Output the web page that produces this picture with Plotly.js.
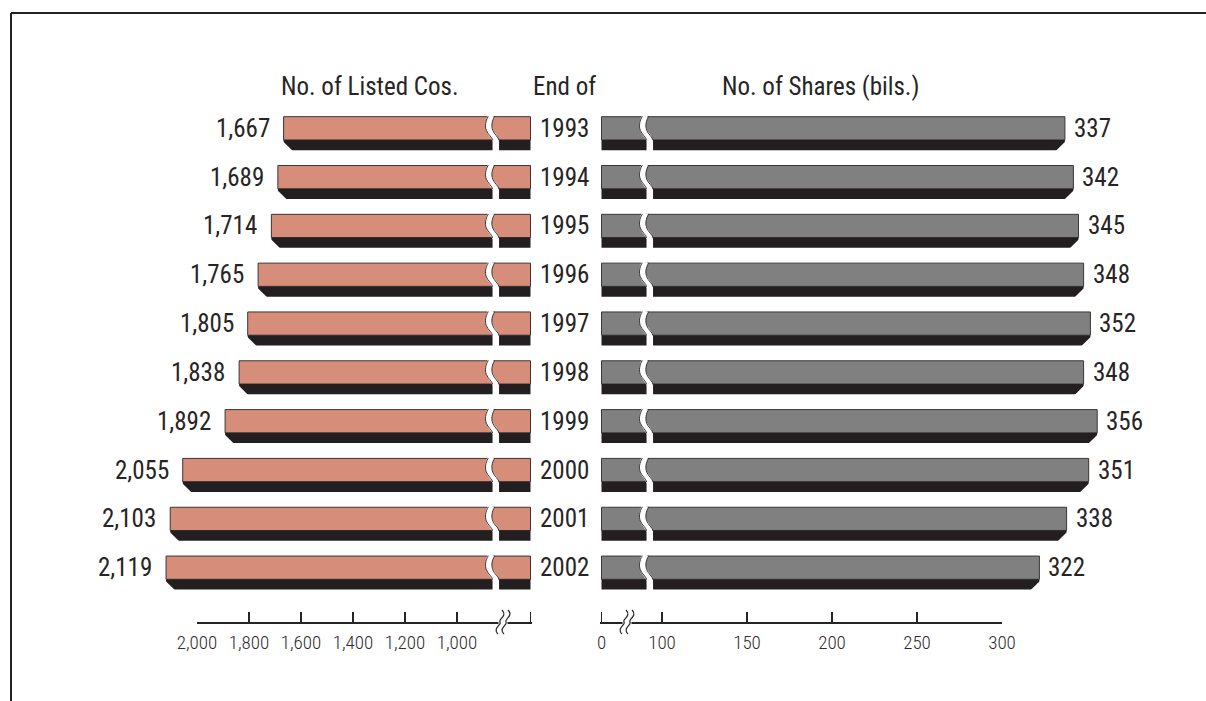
<!DOCTYPE html>
<html>
<head>
<meta charset="utf-8">
<script src="https://cdn.plot.ly/plotly-3.0.1.min.js"></script>
<style>
  html, body { margin: 0; padding: 0; background: #ffffff; }
  #chart { width: 1206px; height: 701px; }
</style>
</head>
<body>
<div id="chart"></div>
<script>
// Year-end listings and shares outstanding, 1993-2002
const years = ['1993', '1994', '1995', '1996', '1997', '1998', '1999', '2000', '2001', '2002'];
const listedCompanies = [1667, 1689, 1714, 1765, 1805, 1838, 1892, 2055, 2103, 2119];
const sharesBillions = [337, 342, 345, 348, 352, 348, 356, 351, 338, 322];
const companyTicks = [2000, 1800, 1600, 1400, 1200, 1000];
const shareTicks = [100, 150, 200, 250, 300];
const shareZeroTick = [0];

const titleLeft = 'No. of Listed Cos.';
const titleMiddle = 'End of';
const titleRight = 'No. of Shares (bils.)';

// ---- page geometry (pixels) ----
const W = 1206, H = 701;
const FONT = '"Roboto Condensed", "Liberation Sans Narrow", "DejaVu Sans Condensed", sans-serif';
const INK = '#272425';
const OUTLINE = '#3b3536';
const SALMON = '#D68E7A';
const GRAY = '#808080';
const SHADOW = '#231F20';
const LABEL_SIZE = 25;

const px = v => v / W;              // horizontal pixel -> paper
const py = v => 1 - v / H;          // vertical pixel -> paper

const axisY = 622;                  // baseline of the two scales
const rowTop = 128.3;               // centre of the first row
const rowStep = 48.82;              // distance between rows
const yRange = [(axisY - rowTop) / rowStep, -rowTop / rowStep];

// bar body: top face plus a dark lower edge
const FACE_OFF = -0.238, FACE_W = 0.476, EDGE_W = 0.21;

// left scale (companies, growing to the left)
const sL = 0.26, leftRef = 197;     // px per company, x of first tick
const vL = x => companyTicks[0] - (x - leftRef) / sL;
const leftBreak = 492, leftEnd = 531.5;

// right scale (shares, growing to the right)
const sR = 1.7, rightRef = 662;     // px per billion, x of first tick
const vR = x => shareTicks[0] + (x - rightRef) / sR;
const rightStart = 600, rightBreak = 646, rightEnd = 1160;
const rightAxisEnd = rightRef + (shareTicks[shareTicks.length - 1] - shareTicks[0]) * sR;

const hidden = {
  showline: false, showgrid: false, zeroline: false, ticks: '',
  showticklabels: false, fixedrange: true, anchor: 'y'
};

function barPair(values, xa, color) {
  return [
    {
      type: 'bar', orientation: 'h', x: values, y: years, xaxis: xa, yaxis: 'y',
      offset: FACE_OFF, width: FACE_W,
      marker: { color: color, line: { color: OUTLINE, width: 1 } },
      hoverinfo: 'skip', showlegend: false
    },
    {
      type: 'bar', orientation: 'h', x: values, y: years, xaxis: xa, yaxis: 'y',
      offset: -FACE_OFF, width: EDGE_W,
      marker: { color: SHADOW, line: { width: 0 } },
      hoverinfo: 'skip', showlegend: false
    }
  ];
}

// carriers for the two printed scales (they hold no visible marks)
function scaleCarrier(ticks, xa) {
  return {
    type: 'scatter', mode: 'markers', x: ticks, y: ticks.map(() => null),
    xaxis: xa, yaxis: 'y', hoverinfo: 'skip', showlegend: false
  };
}

const data = [
  ...barPair(listedCompanies, 'x', SALMON),
  ...barPair(listedCompanies, 'x3', SALMON),
  ...barPair(sharesBillions, 'x2', GRAY),
  ...barPair(sharesBillions, 'x4', GRAY),
  scaleCarrier(companyTicks, 'x5'),
  scaleCarrier(shareTicks, 'x6')
];

const tickFont = { family: FONT, size: 19, color: '#2e2b2c', weight: 300 };
const scaleAxis = {
  showline: true, linecolor: INK, linewidth: 2, showgrid: false, zeroline: false,
  ticks: 'inside', ticklen: 10, tickwidth: 1.2, tickcolor: INK,
  tickfont: tickFont, ticklabelstandoff: 2, fixedrange: true, anchor: 'y'
};

const shapes = [];
const annotations = [];
const labelFont = { family: FONT, size: LABEL_SIZE, color: INK, weight: 400 };

// frame
shapes.push({ type: 'line', xref: 'paper', yref: 'paper', x0: px(11), x1: 1, y0: py(13), y1: py(13),
  line: { color: '#222', width: 2 } });
shapes.push({ type: 'line', xref: 'paper', yref: 'paper', x0: px(11), x1: px(11), y0: py(13), y1: 0,
  line: { color: '#222', width: 2 } });

// wavy break across every bar, the lower edge bevel and the value labels
const breakBand = 'M -0.5,13 C -3.5,8 -4,2 -2.5,-2 C -1,-6 3.5,-9 3.8,-13 L 3.8,-24';
const breakEdgeA = 'M -3.7,12 C -6.7,7 -7.2,2 -5.7,-2 C -4.2,-6 0.3,-9 0.6,-12';
const breakEdgeB = 'M 2.7,12 C -0.3,7 -0.8,2 0.7,-2 C 2.2,-6 6.7,-9 7,-12';

years.forEach((yr, i) => {
  // category rows are addressed by their serial number
  [leftBreak, rightBreak].forEach(bx => {
    const common = { type: 'path', xref: 'paper', yref: 'y', xsizemode: 'pixel', ysizemode: 'pixel',
      xanchor: px(bx), yanchor: i, layer: 'above' };
    shapes.push(Object.assign({}, common, { path: breakBand, line: { color: '#ffffff', width: 6.5 } }));
    shapes.push(Object.assign({}, common, { path: breakEdgeA, line: { color: OUTLINE, width: 1 } }));
    shapes.push(Object.assign({}, common, { path: breakEdgeB, line: { color: OUTLINE, width: 1 } }));
  });

  shapes.push({ type: 'path', xref: 'x', yref: 'y', xsizemode: 'pixel', ysizemode: 'pixel',
    xanchor: listedCompanies[i], yanchor: i, layer: 'above',
    path: 'M -1.5,-12.2 L 9.5,-23 L -1.5,-23 Z', fillcolor: '#ffffff', line: { width: 0 } });
  shapes.push({ type: 'path', xref: 'x2', yref: 'y', xsizemode: 'pixel', ysizemode: 'pixel',
    xanchor: sharesBillions[i], yanchor: i, layer: 'above',
    path: 'M 1.5,-12.2 L -9.5,-23 L 1.5,-23 Z', fillcolor: '#ffffff', line: { width: 0 } });

  annotations.push({ xref: 'x', yref: 'y', x: listedCompanies[i], y: i, xanchor: 'right', yanchor: 'middle',
    xshift: -12, showarrow: false, text: listedCompanies[i].toLocaleString('en-US'), font: labelFont });
  annotations.push({ xref: 'x2', yref: 'y', x: sharesBillions[i], y: i, xanchor: 'left', yanchor: 'middle',
    xshift: 7, showarrow: false, text: String(sharesBillions[i]), font: labelFont });
  annotations.push({ xref: 'paper', yref: 'y', x: px(564), y: i, xanchor: 'center', yanchor: 'middle',
    showarrow: false, text: yr, font: labelFont });
});

// break marks on the two scales
[503, 627].forEach(bx => {
  const common = { xref: 'paper', yref: 'paper', xsizemode: 'pixel', ysizemode: 'pixel',
    xanchor: px(bx), yanchor: py(axisY), layer: 'above' };
  shapes.push(Object.assign({}, common, { type: 'rect', x0: -4.5, x1: 4.5, y0: -2, y1: 2,
    fillcolor: '#ffffff', line: { width: 0 } }));
  [-3, 3].forEach(dx => {
    const p = `M ${2 + dx},12 C ${8 + dx},6 ${-2 + dx},3 ${dx},0 C ${2 + dx},-3 ${-8 + dx},-6 ${-2 + dx},-12`;
    shapes.push(Object.assign({}, common, { type: 'path', path: p, line: { color: INK, width: 1.2 } }));
  });
});

// column headings
[[titleLeft, 370], [titleMiddle, 564], [titleRight, 820]].forEach(([t, cx]) => {
  annotations.push({ xref: 'paper', yref: 'paper', x: px(cx), y: py(86), xanchor: 'center', yanchor: 'middle',
    showarrow: false, text: t, font: labelFont });
});

const layout = {
  width: W, height: H,
  margin: { l: 0, r: 0, t: 0, b: 0, pad: 0 },
  paper_bgcolor: '#ffffff', plot_bgcolor: 'rgba(0,0,0,0)',
  barmode: 'overlay', showlegend: false, hovermode: false,
  yaxis: {
    type: 'category', categoryorder: 'array', categoryarray: years,
    range: yRange, domain: [py(axisY), 1],
    showline: false, showgrid: false, zeroline: false, ticks: '', showticklabels: false, fixedrange: true
  },
  // bar segments
  xaxis: Object.assign({}, hidden, { domain: [px(140), px(leftBreak)], range: [vL(140), vL(leftBreak)] }),
  xaxis3: Object.assign({}, scaleAxis, { domain: [px(leftBreak), px(leftEnd)],
    range: [(leftEnd - 1 - leftBreak) / sL, -1 / sL], tickvals: shareZeroTick, showticklabels: false }),
  xaxis4: Object.assign({}, scaleAxis, { domain: [px(rightStart), px(rightBreak)],
    range: [-1.5 / sR, (rightBreak - rightStart - 1.5) / sR], tickvals: shareZeroTick, tickformat: 'd' }),
  xaxis2: Object.assign({}, hidden, { domain: [px(rightBreak), px(rightEnd)], range: [vR(rightBreak), vR(rightEnd)] }),
  // printed scales
  xaxis5: Object.assign({}, scaleAxis, { domain: [px(leftRef), px(leftEnd - 0.5)],
    range: [companyTicks[0], vL(leftEnd - 0.5)], tickvals: companyTicks, tickformat: ',d' }),
  xaxis6: Object.assign({}, scaleAxis, { domain: [px(rightStart + 1.5), px(rightAxisEnd)],
    range: [vR(rightStart + 1.5), shareTicks[shareTicks.length - 1]], tickvals: shareTicks, tickformat: 'd' }),
  shapes: shapes,
  annotations: annotations
};

Plotly.newPlot('chart', data, layout, { staticPlot: true, displayModeBar: false });
</script>
</body>
</html>
